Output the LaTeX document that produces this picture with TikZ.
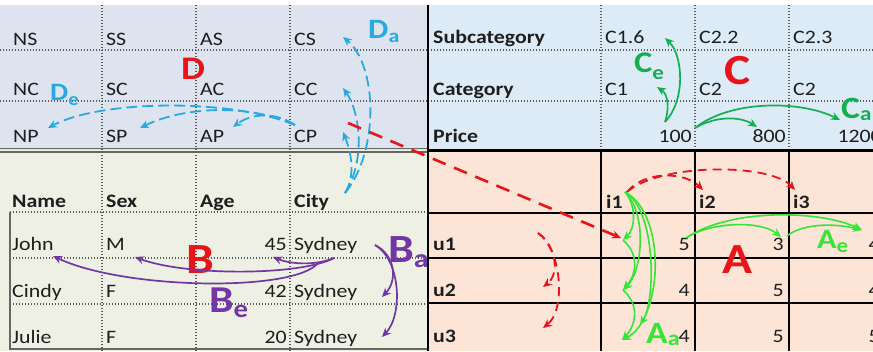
\documentclass[tikz,border=0pt]{standalone}
\usepackage{fontspec}
\setmainfont{Carlito}[FakeStretch=1.15]
\usetikzlibrary{arrows.meta}
\definecolor{tlbg}{RGB}{221,228,240}
\definecolor{trbg}{RGB}{221,235,247}
\definecolor{blbg}{RGB}{237,240,226}
\definecolor{brbg}{RGB}{252,229,215}
\definecolor{txt}{RGB}{30,30,30}
\definecolor{dblue}{RGB}{40,170,225}
\definecolor{cgreen}{RGB}{20,175,80}
\definecolor{bpurple}{RGB}{115,55,165}
\definecolor{agreen}{RGB}{55,228,55}
\definecolor{rred}{RGB}{232,20,25}
\newcommand{\sublab}[5]{\bfseries\fontsize{#1}{#1}\selectfont #3\raisebox{-#4pt}{\fontsize{#2}{#2}\selectfont #5}}
\begin{document}
\begin{tikzpicture}[x=1pt,y=-1pt,
  cell/.style={anchor=base west, inner sep=0pt, text=txt, font=\fontsize{19}{19}\selectfont},
  hcell/.style={cell, font=\fontsize{19}{19}\selectfont\bfseries},
  num/.style={cell, anchor=base east},
  big/.style={anchor=base west, inner sep=0pt, text=rred, font=\fontsize{43}{43}\selectfont\bfseries},
  lab/.style={anchor=base west, inner sep=0pt},
  dotl/.style={draw=black!65, line width=1.1pt, dash pattern=on 1.1pt off 1.9pt},
  tip/.style={-{Stealth[length=9pt,width=8pt]}},
  barrow/.style={tip, draw=dblue, line width=1.8pt, dash pattern=on 11pt off 5pt},
  rarrow/.style={tip, draw=rred, line width=1.8pt, dash pattern=on 9pt off 6pt},
  carrow/.style={tip, draw=cgreen, line width=1.7pt},
  parrow/.style={tip, draw=bpurple, line width=1.7pt},
  aarrow/.style={tip, draw=agreen, line width=1.6pt}]
\useasboundingbox (0,0) rectangle (873,351);
\clip (0,0) rectangle (873,351);
% backgrounds
\fill[white] (0,0) rectangle (873,351);
\fill[tlbg] (0,5) rectangle (428,150);
\fill[trbg] (428,5) rectangle (873,150);
\fill[blbg] (0,150) rectangle (428,351);
\fill[brbg] (428,150) rectangle (873,351);
% top-left grid
\foreach \y in {50,101} \draw[dotl] (0,\y) -- (428,\y);
\foreach \x in {102,196,290} \draw[dotl] (\x,5) -- (\x,351);
% top-right grid
\foreach \y in {50,101} \draw[dotl] (428,\y) -- (873,\y);
\foreach \x in {601,695,789} \draw[dotl] (\x,5) -- (\x,150);
% bottom-left grid
\foreach \y in {212,258,304} \draw[dotl] (10,\y) -- (428,\y);
\draw[black!60, line width=1.3pt] (10,212) -- (10,349) -- (428,349);
\draw[black!60, line width=1.4pt] (0,148.5) -- (428,148.5);
\draw[black!60, line width=1.4pt] (0,152) -- (428,152);
% bottom-right grid
\foreach \y in {213,258,303} \draw[black, line width=1.2pt] (428,\y) -- (873,\y);
\foreach \x in {601,695,789} \draw[black, line width=1.2pt] (\x,150) -- (\x,351);
\draw[black, line width=3pt] (428,150) -- (873,150);
\draw[black, line width=2.6pt] (428,5) -- (428,351);
% top-left texts
\node[cell] (ns) at (13,45) {NS};
\node[cell] (ss) at (106,45) {SS};
\node[cell] (as) at (200,45) {AS};
\node[cell] (cs) at (294,45) {CS};
\node[cell] (nc) at (13,95) {NC};
\node[cell] (sc) at (106,95) {SC};
\node[cell] (ac) at (200,95) {AC};
\node[cell] (cc) at (294,95) {CC};
\node[cell] (np) at (13,142) {NP};
\node[cell] (sp) at (106,142) {SP};
\node[cell] (ap) at (200,142) {AP};
\node[cell] (cp) at (294,142) {CP};
% top-right texts
\node[hcell] (subc) at (433,43) {Subcategory};
\node[cell] (c16) at (605,43) {C1.6};
\node[cell] (c22) at (699,43) {C2.2};
\node[cell] (c23) at (793,43) {C2.3};
\node[hcell] (cat) at (433,95) {Category};
\node[cell] (c1) at (605,95) {C1};
\node[cell] (c2a) at (699,95) {C2};
\node[cell] (c2b) at (793,95) {C2};
\node[hcell] (price) at (433,142) {Price};
\node[num] (p100) at (692,142) {100};
\node[num] (p800) at (786,142) {800};
\node[num] (p1200) at (882,142) {1200};
% bottom-left texts
\node[hcell] (name) at (12,207) {Name};
\node[hcell] (sex) at (106,207) {Sex};
\node[hcell] (age) at (200,207) {Age};
\node[hcell] (city) at (294,207) {City};
\node[cell] (john) at (12,250) {John};
\node[cell] (m) at (106,250) {M};
\node[num] (a45) at (287,250) {45};
\node[cell] (syd1) at (294,250) {Sydney};
\node[cell] (cindy) at (12,297) {Cindy};
\node[cell] (f1) at (106,297) {F};
\node[num] (a42) at (287,297) {42};
\node[cell] (syd2) at (294,297) {Sydney};
\node[cell] (julie) at (12,343) {Julie};
\node[cell] (f2) at (106,343) {F};
\node[num] (a20) at (287,343) {20};
\node[cell] (syd3) at (294,343) {Sydney};
% bottom-right texts
\node[hcell] (i1) at (606,208) {i1};
\node[hcell] (i2) at (699,208) {i2};
\node[hcell] (i3) at (793,208) {i3};
\node[hcell] (u1) at (433,250) {u1};
\node[hcell] (u2) at (433,296) {u2};
\node[hcell] (u3) at (433,342) {u3};
\node[num] (r11) at (690,250) {5};
\node[num] (r12) at (784,250) {3};
\node[num] (r13) at (880,250) {4};
\node[num] (r21) at (690,296) {4};
\node[num] (r22) at (784,296) {5};
\node[num] (r23) at (880,296) {4};
\node[num] (r31) at (690,342) {4};
\node[num] (r32) at (784,342) {5};
\node[num] (r33) at (880,342) {5};
% big red letters
\node[big, font=\fontsize{33}{33}\selectfont\bfseries] (bigD) at (181,79) {D};
\node[big] (bigC) at (724,84) {C};
\node[big] (bigB) at (186,273) {B};
\node[big] (bigA) at (722,273) {A};
% sub labels
\node[lab, text=dblue] (Da) at (368,38) {\sublab{28}{19}{D}{4}{a}};
\node[lab, text=dblue] (De) at (50,100) {\sublab{25}{18}{D}{5}{e}};
\node[lab, text=cgreen] (Ce) at (634,72) {\sublab{30}{20}{C}{7}{e}};
\node[lab, text=cgreen] (Ca) at (841,118) {\sublab{31}{20}{C}{2}{a}};
\node[lab, text=bpurple] (Ba) at (388,262) {\sublab{40}{26}{B}{5}{a}};
\node[lab, text=bpurple] (Be) at (209,312) {\sublab{38}{25}{B}{5}{e}};
\node[lab, text=agreen] (Aa) at (646,343) {\sublab{31}{21}{A}{2}{a}};
\node[lab, text=agreen] (Ae) at (817,248) {\sublab{28}{20}{A}{4}{e}};
% coordinates for arrows
\coordinate (dS) at (345,193);
\coordinate (dCS) at (343,37);
\coordinate (dCC) at (343,88);
\coordinate (dCP) at (343,132);
\coordinate (eS) at (295,125);
\coordinate (eNP) at (48,128);
\coordinate (eSP) at (140,128);
\coordinate (eAP) at (233,127);
\coordinate (rS) at (348,123);
\coordinate (rE) at (621,238);
\coordinate (iS) at (627,192);
\coordinate (iT2) at (703,190);
\coordinate (iT3) at (795,190);
\coordinate (uS) at (538,233);
\coordinate (uT2) at (543,287);
\coordinate (uT3) at (543,328);
\coordinate (aS) at (625,192);
\coordinate (aU1) at (623,240);
\coordinate (aU2) at (623,290);
\coordinate (aU3) at (622,340);
\coordinate (aX) at (640,325);
\coordinate (eS5) at (686,238);
\coordinate (eT3) at (781,237);
\coordinate (eT4) at (862,230);
\coordinate (e3) at (787,236);
\coordinate (cS) at (665,122);
\coordinate (cT16) at (665,38);
\coordinate (cT1) at (657,87);
\coordinate (caS) at (695,128);
\coordinate (caT8) at (757,127);
\coordinate (caT12) at (840,120);
\coordinate (bS) at (334,258);
\coordinate (bS2) at (318,263);
\coordinate (bT45) at (273,257);
\coordinate (bTM) at (135,257);
\coordinate (bTJ) at (53,256);
\coordinate (baS) at (375,245);
\coordinate (baT2) at (382,297);
\coordinate (baT3) at (382,337);
% D arrows
\draw[barrow] (dS) .. controls (380,150) and (377,65) .. (dCS);
\draw[barrow] (dS) .. controls (366,160) and (360,112) .. (dCC);
\draw[barrow] (dS) .. controls (356,175) and (351,152) .. (dCP);
\draw[barrow] (eS) .. controls (230,98) and (100,100) .. (eNP);
\draw[barrow] (eS) .. controls (250,104) and (185,106) .. (eSP);
\draw[barrow] (eS) .. controls (276,112) and (252,113) .. (eAP);
% red arrows
\draw[rarrow, line width=2.6pt, dash pattern=on 14pt off 9pt] (rS) -- (rE);
\draw[rarrow] (iS) .. controls (645,170) and (685,172) .. (iT2);
\draw[rarrow] (iS) .. controls (660,163) and (770,163) .. (iT3);
\draw[rarrow] (uS) .. controls (556,245) and (560,274) .. (uT2);
\draw[rarrow] (uS) .. controls (562,250) and (566,310) .. (uT3);
% A arrows
\draw[aarrow] (aS) .. controls (636,205) and (636,228) .. (aU1);
\draw[aarrow] (aS) .. controls (648,215) and (642,272) .. (aU2);
\draw[aarrow] (aS) .. controls (668,215) and (662,320) .. (aU3);
\draw[aarrow] (aS) .. controls (656,210) and (656,300) .. (aX);
\draw[aarrow] (aU1) .. controls (640,255) and (636,275) .. (aU2);
\draw[aarrow] (aU2) .. controls (640,305) and (636,325) .. (aU3);
\draw[aarrow] (eS5) .. controls (710,222) and (760,220) .. (eT3);
\draw[aarrow] (eS5) .. controls (730,208) and (820,210) .. (eT4);
\draw[aarrow] (e3) .. controls (800,225) and (830,222) .. (eT4);
% C arrows
\draw[carrow] (cS) .. controls (686,100) and (683,55) .. (cT16);
\draw[carrow] (cS) .. controls (669,110) and (669,95) .. (cT1);
\draw[carrow] (caS) .. controls (715,116) and (740,116) .. (caT8);
\draw[carrow] (caS) .. controls (730,100) and (800,100) .. (caT12);
% B arrows
\draw[parrow] (bS) .. controls (315,266) and (290,264) .. (bT45);
\draw[parrow] (bS) .. controls (300,276) and (185,276) .. (bTM);
\draw[parrow] (bS2) .. controls (295,292) and (125,290) .. (bTJ);
\draw[parrow] (baS) .. controls (395,255) and (398,280) .. (baT2);
\draw[parrow] (baS) .. controls (401,260) and (403,315) .. (baT3);
\end{tikzpicture}
\end{document}
